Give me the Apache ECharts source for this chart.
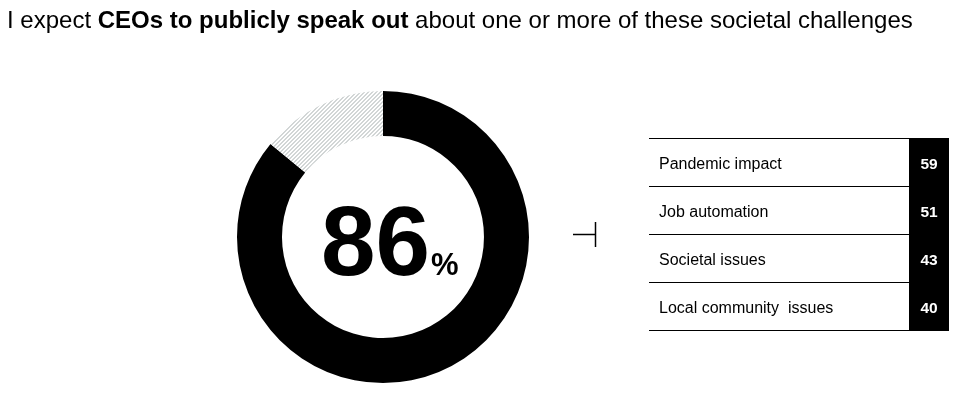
<!DOCTYPE html>
<html>
<head>
<meta charset="utf-8">
<script src="https://cdn.jsdelivr.net/npm/echarts@6/dist/echarts.min.js"></script>
<style>
  html, body { margin: 0; padding: 0; background: #fff; }
  #main { width: 974px; height: 395px; }
</style>
</head>
<body>
<div id="main"></div>
<script>
// data
var shareExpect = 86;
var shareRest = 100 - shareExpect;
var issues = ['Pandemic impact', 'Job automation', 'Societal issues', 'Local community  issues'];
var issueValues = [59, 51, 43, 40];

var FONT = '"Liberation Sans", Arial, sans-serif';

// hatch pattern for the remaining slice
function makeHatch() {
    var n = 4;
    var c = document.createElement('canvas');
    c.width = n; c.height = n;
    var ctx = c.getContext('2d');
    ctx.fillStyle = '#ffffff';
    ctx.fillRect(0, 0, n, n);
    ctx.fillStyle = '#d2d6d6';
    for (var i = 0; i < n; i++) {
        ctx.fillRect(i, n - 1 - i, 1, 1);
        ctx.fillRect((i + 1) % n, n - 1 - i, 1, 1);
    }
    return c;
}

var myChart = echarts.init(document.getElementById('main'));

myChart.setOption({
    animation: false,
    title: [{
        left: 7,
        top: 9,
        padding: 0,
        text: '{n|I expect }{b|CEOs to publicly speak out}{n| about one or more of these societal challenges}',
        textStyle: {
            fontWeight: 'normal',
            rich: {
                n: { fontFamily: FONT, fontSize: 24, fontWeight: 'normal', color: '#000' },
                b: { fontFamily: FONT, fontSize: 24, fontWeight: 'bold', color: '#000' }
            }
        }
    }],
    grid: {
        left: 649,
        top: 138,
        width: 300,
        height: 192
    },
    xAxis: {
        type: 'value',
        min: 0,
        max: 300,
        show: false
    },
    yAxis: {
        type: 'category',
        inverse: true,
        data: issues,
        axisLine: { show: false },
        axisTick: { show: false },
        axisLabel: {
            inside: true,
            margin: 10,
            formatter: '{a|{value}}',
            rich: {
                a: { fontFamily: FONT, fontSize: 16, color: '#000', padding: [5, 0, 0, 0] }
            }
        },
        splitLine: {
            show: true,
            lineStyle: { color: '#000', width: 1 }
        }
    },
    series: [
        {
            type: 'pie',
            center: [383, 237],
            radius: [101, 146],
            startAngle: 90,
            clockwise: true,
            silent: true,
            label: { show: false },
            labelLine: { show: false },
            data: [
                { value: shareExpect, itemStyle: { color: '#000' } },
                { value: shareRest, itemStyle: { color: { image: makeHatch(), repeat: 'repeat' } } }
            ]
        },
        {
            type: 'custom',
            coordinateSystem: 'cartesian2d',
            silent: true,
            data: issueValues.map(function (v, i) { return [300, i, v]; }),
            renderItem: function (params, api) {
                var p = api.coord([api.value(0), api.value(1)]);
                var h = api.size([0, 1])[1];
                var w = 40;
                return {
                    type: 'group',
                    children: [
                        {
                            type: 'rect',
                            shape: { x: p[0] - w, y: p[1] - h / 2, width: w, height: h },
                            style: { fill: '#000' }
                        },
                        {
                            type: 'text',
                            x: p[0] - w / 2,
                            y: p[1] + 3,
                            style: {
                                text: String(api.value(2)),
                                fill: '#fff',
                                font: 'bold 15.5px ' + FONT,
                                align: 'center',
                                verticalAlign: 'middle'
                            }
                        }
                    ]
                };
            }
        }
    ],
    graphic: [
        {
            type: 'text',
            left: 321,
            top: 199,
            style: {
                text: '{big|' + shareExpect + '}{pct|%}',
                rich: {
                    big: { fontFamily: FONT, fontSize: 98, fontWeight: 'bold', color: '#000', verticalAlign: 'bottom' },
                    pct: { fontFamily: FONT, fontSize: 31, fontWeight: 'bold', color: '#000', verticalAlign: 'bottom', padding: [0, 0, 15, 1] }
                }
            }
        },
        {
            type: 'line',
            shape: { x1: 573, y1: 234.5, x2: 596, y2: 234.5 },
            style: { stroke: '#000', lineWidth: 1.5 }
        },
        {
            type: 'line',
            shape: { x1: 595.5, y1: 222, x2: 595.5, y2: 247 },
            style: { stroke: '#000', lineWidth: 1.5 }
        }
    ]
});
</script>
</body>
</html>
